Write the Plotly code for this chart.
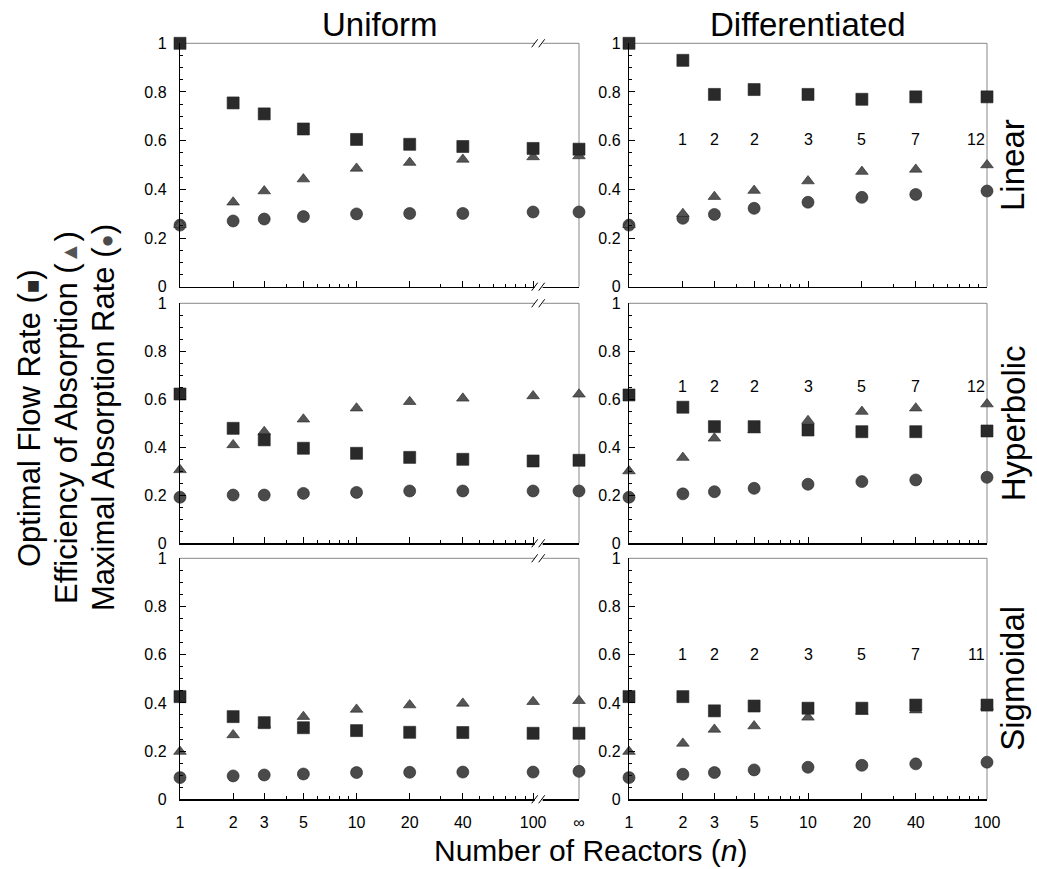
import math
import plotly.graph_objects as go

# ---------------- data ----------------
N_UNIFORM = [1, 2, 3, 5, 10, 20, 40, 100, "∞"]
N_DIFF = [1, 2, 3, 5, 10, 20, 40, 100]
X_TICKS_UNIFORM = ["1", "2", "3", "5", "10", "20", "40", "100", "∞"]
X_TICKS_DIFF = ["1", "2", "3", "5", "10", "20", "40", "100"]
Y_TICKS = ["0", "0.2", "0.4", "0.6", "0.8", "1"]
ROWS = ["Linear", "Hyperbolic", "Sigmoidal"]
COLS = ["Uniform", "Differentiated"]

# Uniform column (n = 1 ... 100, ∞)
U_LIN_FLOW = [1.00, 0.755, 0.71, 0.648, 0.605, 0.585, 0.576, 0.568, 0.565]
U_LIN_EFF = [0.255, 0.347, 0.393, 0.442, 0.486, 0.51, 0.523, 0.533, 0.537]
U_LIN_MAX = [0.253, 0.27, 0.278, 0.288, 0.299, 0.301, 0.301, 0.307, 0.307]

U_HYP_FLOW = [0.622, 0.479, 0.431, 0.396, 0.375, 0.358, 0.35, 0.343, 0.346]
U_HYP_EFF = [0.306, 0.41, 0.465, 0.517, 0.563, 0.59, 0.604, 0.614, 0.621]
U_HYP_MAX = [0.192, 0.201, 0.201, 0.208, 0.212, 0.218, 0.218, 0.218, 0.218]

U_SIG_FLOW = [0.426, 0.343, 0.318, 0.297, 0.285, 0.278, 0.277, 0.274, 0.274]
U_SIG_EFF = [0.198, 0.267, 0.31, 0.343, 0.373, 0.391, 0.398, 0.405, 0.409]
U_SIG_MAX = [0.09, 0.097, 0.101, 0.105, 0.111, 0.112, 0.113, 0.113, 0.116]

# Differentiated column (n = 1 ... 100)
D_LIN_FLOW = [1.00, 0.93, 0.79, 0.81, 0.79, 0.77, 0.78, 0.78]
D_LIN_EFF = [0.255, 0.30, 0.37, 0.395, 0.434, 0.473, 0.482, 0.50]
D_LIN_MAX = [0.253, 0.281, 0.297, 0.322, 0.347, 0.367, 0.379, 0.393]

D_HYP_FLOW = [0.618, 0.567, 0.486, 0.486, 0.472, 0.465, 0.465, 0.468]
D_HYP_EFF = [0.301, 0.357, 0.4375, 0.472, 0.511, 0.549, 0.563, 0.58]
D_HYP_MAX = [0.192, 0.206, 0.215, 0.229, 0.246, 0.257, 0.264, 0.275]

D_SIG_FLOW = [0.426, 0.426, 0.367, 0.387, 0.378, 0.378, 0.391, 0.391]
D_SIG_EFF = [0.198, 0.232, 0.29, 0.304, 0.34, 0.364, 0.37, 0.385]
D_SIG_MAX = [0.09, 0.104, 0.111, 0.122, 0.133, 0.141, 0.147, 0.154]

# number of distinct reactor classes, printed in the differentiated panels
COUNT_N = [2, 3, 5, 10, 20, 40, 100]
LIN_COUNTS = ["1", "2", "2", "3", "5", "7", "12"]
HYP_COUNTS = ["1", "2", "2", "3", "5", "7", "12"]
SIG_COUNTS = ["1", "2", "2", "3", "5", "7", "11"]

PANELS = {
    (0, 0): (U_LIN_FLOW, U_LIN_EFF, U_LIN_MAX),
    (1, 0): (U_HYP_FLOW, U_HYP_EFF, U_HYP_MAX),
    (2, 0): (U_SIG_FLOW, U_SIG_EFF, U_SIG_MAX),
    (0, 1): (D_LIN_FLOW, D_LIN_EFF, D_LIN_MAX),
    (1, 1): (D_HYP_FLOW, D_HYP_EFF, D_HYP_MAX),
    (2, 1): (D_SIG_FLOW, D_SIG_EFF, D_SIG_MAX),
}
COUNTS = {0: LIN_COUNTS, 1: HYP_COUNTS, 2: SIG_COUNTS}

# ---------------- layout constants ----------------
W, H = 1037, 869
INF_AT = 182          # where "∞" sits on the log axis
COUNT_Y = {0: 0.603, 1: 0.655, 2: 0.6}
FONT = "Liberation Sans, Arial, Helvetica, sans-serif"
TICK_SIZE = 16
TITLE_SIZE = 33
XDOM = {0: [180 / W, 579 / W], 1: [629 / W, 987 / W]}
YDOM = {
    0: [1 - 286.7 / H, 1 - 43.3 / H],
    1: [1 - 543.3 / H, 1 - 303.3 / H],
    2: [1 - 799.3 / H, 1 - 558.3 / H],
}
SQ_COLOR = "#2a2a2a"
TRI_COLOR = "#555555"
CIR_COLOR = "#4a4a4a"


def xpos(v):
    return INF_AT if v == "∞" else v


fig = go.Figure()
layout = dict(
    width=W, height=H,
    margin=dict(l=0, r=0, t=0, b=0, pad=0, autoexpand=False),
    paper_bgcolor="white", plot_bgcolor="white", showlegend=False,
    font=dict(family=FONT, size=TICK_SIZE, color="black"),
)
shapes = []
annotations = []

for (r, c), (flow, eff, mx) in PANELS.items():
    k = r * 2 + c + 1
    xa = "x" if k == 1 else f"x{k}"
    ya = "y" if k == 1 else f"y{k}"
    ns = N_UNIFORM if c == 0 else N_DIFF
    xs = [xpos(v) for v in ns]
    for vals, sym, col, size in ((mx, "circle", CIR_COLOR, 12),
                                 (eff, "triangle-up", TRI_COLOR, 11),
                                 (flow, "square", SQ_COLOR, 12)):
        fig.add_trace(go.Scatter(
            x=xs, y=vals, mode="markers", xaxis=xa, yaxis=ya,
            cliponaxis=False,
            marker=dict(symbol=sym, size=size, color=col,
                        line=dict(width=0.6, color="#222")),
        ))

    tickvals = [xpos(v) for v in ns]
    ticktext = X_TICKS_UNIFORM if c == 0 else X_TICKS_DIFF
    xmax = math.log10(INF_AT) if c == 0 else 2
    layout[f"xaxis{'' if k == 1 else k}"] = dict(
        domain=XDOM[c], anchor=ya, type="log", range=[0, xmax],
        automargin=False,
        tickmode="array", tickvals=tickvals, ticktext=ticktext,
        showticklabels=(r == 2), ticks="inside", ticklen=6, tickwidth=1,
        tickcolor="black", ticklabelstandoff=8,
        minor=dict(tickmode="linear", dtick="D1", ticks="inside",
                   ticklen=3, tickcolor="black", showgrid=False),
        showline=True, linecolor="black", linewidth=1.2,
        showgrid=False, zeroline=False,
        tickfont=dict(size=TICK_SIZE, family=FONT),
    )
    layout[f"yaxis{'' if k == 1 else k}"] = dict(
        domain=YDOM[r], anchor=xa, range=[0, 1],
        automargin=False,
        tickmode="array", tickvals=[0, 0.2, 0.4, 0.6, 0.8, 1],
        ticktext=Y_TICKS, ticks="inside", ticklen=6, tickcolor="black",
        ticklabelstandoff=9 if c == 0 else 4,
        minor=dict(tickmode="linear", tick0=0, dtick=0.05, ticks="inside",
                   ticklen=3, tickcolor="black", showgrid=False),
        showline=True, linecolor="black", linewidth=1.2,
        showgrid=False, zeroline=False,
        tickfont=dict(size=TICK_SIZE, family=FONT),
    )
    # grey frame on top and right
    shapes.append(dict(type="line", xref=f"{xa} domain", yref=f"{ya} domain",
                       x0=0, x1=1, y0=1, y1=1, line=dict(color="#888", width=1),
                       layer="below"))
    shapes.append(dict(type="line", xref=f"{xa} domain", yref=f"{ya} domain",
                       x0=1, x1=1, y0=0, y1=1, line=dict(color="#888", width=1),
                       layer="below"))
    # axis break marks on the uniform panels
    if c == 0:
        for yb in (0, 1):
            shapes.append(dict(type="rect", xref=f"{xa} domain", yref=f"{ya} domain",
                               xsizemode="pixel", ysizemode="pixel",
                               xanchor=0.899, yanchor=yb, x0=-4, x1=4, y0=-3, y1=3,
                               fillcolor="white", line=dict(width=0)))
            for dx in (-4, 3):
                shapes.append(dict(type="line", xref=f"{xa} domain", yref=f"{ya} domain",
                                   xsizemode="pixel", ysizemode="pixel",
                                   xanchor=0.899, yanchor=yb,
                                   x0=dx - 3, x1=dx + 3, y0=-4, y1=4,
                                   line=dict(color="black", width=1)))
    else:
        labels = COUNTS[r]
        for i, (n, t) in enumerate(zip(COUNT_N, labels)):
            last = i == len(labels) - 1
            annotations.append(dict(
                x=math.log10(n), y=COUNT_Y[r], xref=xa, yref=ya, text=t,
                showarrow=False, xanchor="right" if last else "center",
                yanchor="middle", font=dict(size=TICK_SIZE, family=FONT)))

# column titles
for c, name in enumerate(COLS):
    annotations.append(dict(x=sum(XDOM[c]) / 2, y=1 - 24 / H, xref="paper", yref="paper",
                            text=name, showarrow=False, xanchor="center", yanchor="middle",
                            font=dict(size=TITLE_SIZE, family=FONT)))
# row labels
for r, name in enumerate(ROWS):
    annotations.append(dict(x=1013 / W, y=sum(YDOM[r]) / 2, xref="paper", yref="paper",
                            text=name, showarrow=False, textangle=-90,
                            xanchor="center", yanchor="middle",
                            font=dict(size=TITLE_SIZE, family=FONT)))
# x title
annotations.append(dict(x=590 / W, y=1 - 850 / H, xref="paper", yref="paper",
                        text="Number of Reactors (<i>n</i>)", showarrow=False,
                        xanchor="center", yanchor="middle",
                        font=dict(size=30, family=FONT)))
# y title, three lines
YLINES = [
    ("Optimal Flow Rate (", "■", SQ_COLOR, 29),
    ("Efficiency of Absorption (", "▲", TRI_COLOR, 66),
    ("Maximal Absorption Rate (", "●", CIR_COLOR, 103),
]
for txt, sym, col, xc in YLINES:
    annotations.append(dict(
        x=xc / W, y=1 - 418 / H, xref="paper", yref="paper",
        text=f"{txt}<span style='font-size:22px;color:{col}'>{sym}</span>)",
        showarrow=False, textangle=-90, xanchor="center", yanchor="middle",
        font=dict(size=31, family=FONT)))

layout["shapes"] = shapes
layout["annotations"] = annotations
fig.update_layout(**layout)
fig.write_html(
    "out.html",
    config={"displayModeBar": False, "staticPlot": True},
    post_script="document.body.style.margin='0px';"
                "document.body.style.padding='0px';"
                "document.body.style.overflow='hidden';",
)
